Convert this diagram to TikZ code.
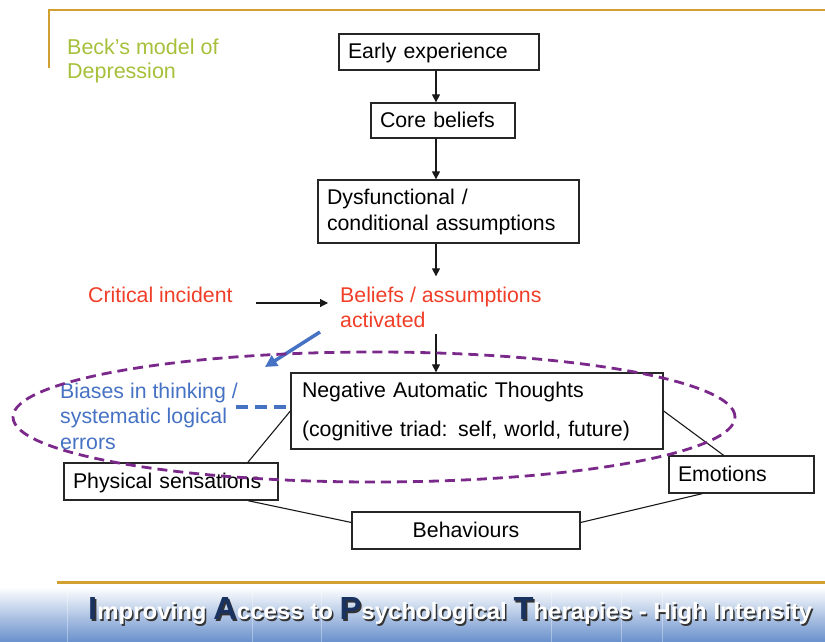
\documentclass[tikz,border=0pt]{standalone}
\usepackage{fontspec}
\setmainfont{Liberation Sans}
\usetikzlibrary{arrows.meta}
\definecolor{goldl}{RGB}{210,160,48}
\definecolor{titlegreen}{RGB}{166,192,58}
\definecolor{redt}{RGB}{240,62,40}
\definecolor{bluet}{RGB}{70,114,196}
\definecolor{purp}{RGB}{122,40,138}
\definecolor{bannerblue}{RGB}{104,144,204}
\definecolor{capnavy}{RGB}{26,50,96}
\newcommand\diagfont{\fontsize{21.3}{25.5}\selectfont}
\newcommand\titlefont{\fontsize{21.5}{24}\selectfont}
\newcommand\bcap[2]{{\fontsize{30}{30}\selectfont\color{#1}#2}}
\newcommand\bannerline[1]{\bcap{#1}{I}mproving \bcap{#1}{A}ccess to \bcap{#1}{P}sychological \bcap{#1}{T}herapies - High Intensity}
\begin{document}
\begin{tikzpicture}[x=1pt,y=-1pt,
  box/.style={draw=black!85,line width=1.3pt,inner xsep=9pt,inner ysep=0pt,align=left,font=\diagfont},
  oneline/.style={text height=16pt,text depth=2pt},
  arr/.style={-{Triangle[length=8pt,width=8pt]},line width=1.1pt,black!90},
  link/.style={line width=1.1pt,black!90},
  lbl/.style={inner sep=0pt,anchor=base west,align=left,font=\diagfont}]
\useasboundingbox (0,0) rectangle (825,642);
% header lines
\draw[goldl,line width=2.7pt] (49,68) -- (49,10) -- (825,10);
\node[lbl,text=titlegreen,font=\titlefont] (title) at (67,78) {Beck’s model of\\Depression};
% boxes
\node[box,oneline,text width=182pt,minimum height=36pt] (early) at (439,52) {Early experience};
\node[box,oneline,text width=126pt,minimum height=35pt] (core) at (443,120.5) {Core beliefs};
\node[box,text width=243pt,minimum height=63pt,font=\fontsize{21.3}{26}\selectfont] (dys) at (448.5,211.5) {Dysfunctional /\\conditional assumptions};
\node[box,inner xsep=11pt,text width=350pt,minimum height=76pt] (nat) at (477,411) {Negative Automatic Thoughts\\[13.5pt](cognitive triad: self, world, future)};
\node[box,oneline,text width=196pt,minimum height=37pt] (phys) at (171,481.5) {Physical sensations};
\node[box,oneline,text width=127pt,minimum height=37pt] (emo) at (741.5,474.5) {Emotions};
\node[box,oneline,text width=210pt,align=center,minimum height=37pt] (beh) at (466,530.5) {Behaviours};
% labels
\node[lbl,text=redt] (crit) at (88,302) {Critical incident};
\node[lbl,text=redt,font=\fontsize{21.3}{25}\selectfont] (bel) at (340,327) {Beliefs / assumptions\\activated};
\node[lbl,text=bluet] (bias) at (60,449) {Biases in thinking /\\systematic logical\\errors};
% vertical arrows
\coordinate (ax) at (436,0);
\draw[arr] (early.south -| ax) -- (core.north -| ax);
\draw[arr] (core.south -| ax) -- (dys.north -| ax);
\draw[arr,shorten >=10pt] (dys.south -| ax) -- (bel.north -| ax);
\draw[arr,shorten <=7pt] (bel.south -| ax) -- (nat.north -| ax);
\draw[arr] ([xshift=23pt,yshift=-1pt]crit.base east) -- ([xshift=-12pt,yshift=-1pt]crit.base east -| bel.west);
% blue arrow and dashed link
\coordinate (b1) at (320,332);
\coordinate (b2) at (265,367);
\draw[-{Triangle[length=12pt,width=12pt]},line width=3.5pt,bluet] (b1) -- (b2);
\coordinate (bd) at (236,407);
\draw[bluet,line width=4pt,dash pattern=on 12pt off 7pt] (bd) -- (bd -| nat.west);
% links
\draw[link] (nat.west) -- (phys.14);
\draw[link] (nat.east) -- (emo.133);
\draw[link] (emo.206) -- (beh.4);
\draw[link] (phys.-14) -- (beh.176);
% ellipse
\draw[purp,line width=2.8pt,dash pattern=on 10pt off 6pt] (374,417) ellipse [x radius=361pt,y radius=65pt];
% footer
\draw[goldl,line width=3pt] (57,582) -- (825,582);
\shade[top color=white,bottom color=bannerblue] (0,587) rectangle (825,642);
\foreach \x in {67,252,321,551,621,662} \draw[white,opacity=.35,line width=.8pt] (\x,588) -- (\x,642);
\node[inner sep=0pt,anchor=base west,text=black!80] (bshadow) at (89.5,621) {\resizebox{724pt}{22pt}{\bfseries\fontsize{22}{22}\selectfont\bannerline{black!80}}};
\node[inner sep=0pt,anchor=base west,text=white] (banner) at (88,619.5) {\resizebox{724pt}{22pt}{\bfseries\fontsize{22}{22}\selectfont\bannerline{capnavy}}};
\end{tikzpicture}
\end{document}
